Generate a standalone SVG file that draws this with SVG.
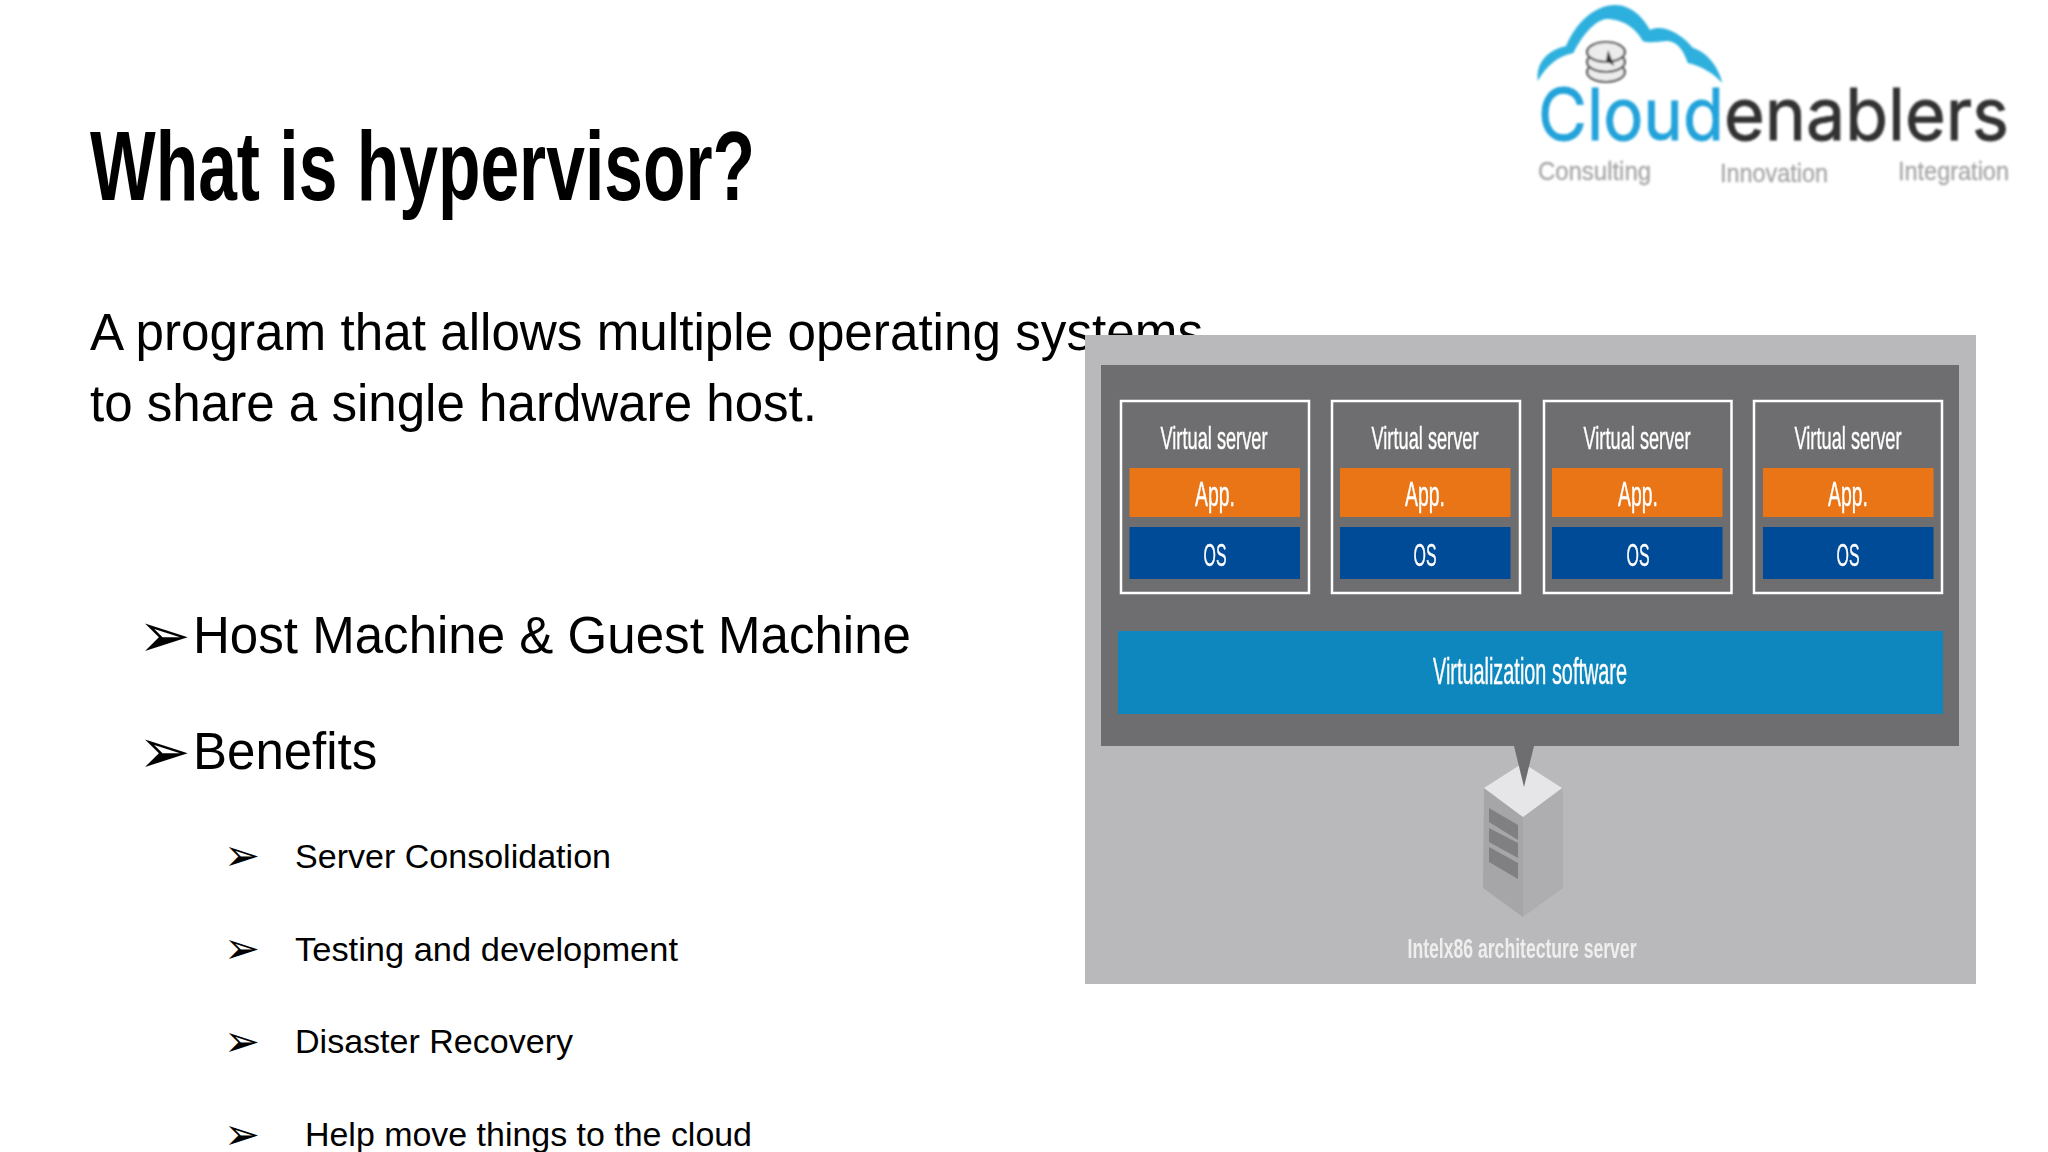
<svg xmlns="http://www.w3.org/2000/svg" width="2048" height="1152" viewBox="0 0 2048 1152">
<style>
text{font-family:"Liberation Sans",Arial,sans-serif;fill:#000}
.title{font-weight:700;font-size:98px}
.body{font-size:51px}
.l1{font-size:51px}
.l2{font-size:34.100px}
.b1{font-family:"DejaVu Sans",sans-serif;font-size:63px}
.b2{font-family:"DejaVu Sans",sans-serif;font-size:43px}
.w{fill:#fff;text-anchor:middle;stroke:#fff;stroke-width:.4}
.vs{font-size:32px}.app{font-size:35px}.os{font-size:32px}
.box{fill:none;stroke:#fff;stroke-width:2.500}
.or{fill:#e97518}.bl{fill:#004b97}
.g{fill:#a8a8a8;font-size:26px;stroke:#a8a8a8;stroke-width:.4}
.logo{font-family:Inter,sans-serif;font-size:72px;stroke-width:.9}
</style>
<defs>
<filter id="soft" x="-2%" y="-2%" width="104%" height="104%"><feGaussianBlur stdDeviation="0.6"/></filter>
<filter id="softer" x="-2%" y="-2%" width="104%" height="104%"><feGaussianBlur stdDeviation="1"/></filter>
</defs>
<rect width="2048" height="1152" fill="#fff"/>
<g id="slide-text">
<text class="title" x="90" y="200" textLength="665" lengthAdjust="spacingAndGlyphs">What is hypervisor?</text>
<text class="body" x="90" y="350" textLength="1113" lengthAdjust="spacingAndGlyphs">A program that allows multiple operating systems</text>
<text class="body" x="90" y="421" textLength="727" lengthAdjust="spacingAndGlyphs">to share a single hardware host.</text>
<text class="b1" x="138" y="657">➢</text><text class="l1" x="193" y="653" textLength="718" lengthAdjust="spacingAndGlyphs">Host Machine &amp; Guest Machine</text>
<text class="b1" x="138" y="773">➢</text><text class="l1" x="193" y="769">Benefits</text>
<text class="b2" x="224" y="870">➢</text><text class="l2" x="295" y="868" textLength="316" lengthAdjust="spacingAndGlyphs">Server Consolidation</text>
<text class="b2" x="224" y="963">➢</text><text class="l2" x="295" y="961" textLength="383" lengthAdjust="spacingAndGlyphs">Testing and development</text>
<text class="b2" x="224" y="1056">➢</text><text class="l2" x="295" y="1053" textLength="278" lengthAdjust="spacingAndGlyphs">Disaster Recovery</text>
<text class="b2" x="224" y="1149">➢</text><text class="l2" x="305" y="1146" textLength="447" lengthAdjust="spacingAndGlyphs">Help move things to the cloud</text>
</g>
<g id="logo" filter="url(#softer)">
<g transform="translate(1500 0) scale(1.049 1) translate(-1500 0)">
<path d="M1536 81C1534 62 1546 50 1563 46C1572 23 1590 5 1610 5C1625 5 1637 18 1643 30C1655 24 1672 33 1684 48C1697 52 1708 66 1712 83C1703 73 1692 66 1679 63C1675 51 1670 42 1660 41C1652 41 1644 44 1636 41C1630 29 1618 19 1601 19C1589 21 1577 38 1570 53C1555 56 1545 65 1536 81Z" fill="#2fb0de"/>
<g fill="#ececec" stroke="#555" stroke-width="2.200">
<ellipse cx="1601" cy="72" rx="18" ry="10"/><ellipse cx="1601" cy="62" rx="18" ry="10"/><ellipse cx="1601" cy="52" rx="18" ry="10"/>
</g>
<path d="M1603 50l6 16-8-5z" fill="#333"/>
</g>
<text class="logo" x="1538" y="140" textLength="186" lengthAdjust="spacingAndGlyphs" style="fill:#23a3da;stroke:#23a3da">Cloud</text>
<text class="logo" x="1724" y="140" textLength="285" lengthAdjust="spacingAndGlyphs" style="fill:#333;stroke:#333">enablers</text>
<text class="g" x="1538" y="180" textLength="113" lengthAdjust="spacingAndGlyphs">Consulting</text>
<text class="g" x="1720" y="182" textLength="108" lengthAdjust="spacingAndGlyphs">Innovation</text>
<text class="g" x="1898" y="180" textLength="111" lengthAdjust="spacingAndGlyphs">Integration</text>
</g>
<g id="figure">
<rect x="1085" y="335" width="891" height="649" fill="#b9b9bb"/>
<rect x="1101" y="365" width="858" height="381" fill="#6e6e70"/>
</g>
<g id="servers" filter="url(#soft)">
<g id="vs1"><rect class="box" x="1121" y="401" width="188" height="192"/><rect class="or" x="1129.500" y="468" width="170.500" height="49"/><rect class="bl" x="1129.500" y="527" width="170.500" height="52"/><text class="w vs" x="1214" y="449" textLength="107" lengthAdjust="spacingAndGlyphs">Virtual server</text><text class="w app" x="1215" y="506" textLength="40" lengthAdjust="spacingAndGlyphs">App.</text><text class="w os" x="1215" y="566" textLength="23" lengthAdjust="spacingAndGlyphs">OS</text></g>
<g id="vs2"><rect class="box" x="1332" y="401" width="188" height="192"/><rect class="or" x="1340" y="468" width="170.500" height="49"/><rect class="bl" x="1340" y="527" width="170.500" height="52"/><text class="w vs" x="1425" y="449" textLength="107" lengthAdjust="spacingAndGlyphs">Virtual server</text><text class="w app" x="1425" y="506" textLength="40" lengthAdjust="spacingAndGlyphs">App.</text><text class="w os" x="1425" y="566" textLength="23" lengthAdjust="spacingAndGlyphs">OS</text></g>
<g id="vs3"><rect class="box" x="1544" y="401" width="187.500" height="192"/><rect class="or" x="1552" y="468" width="170.500" height="49"/><rect class="bl" x="1552" y="527" width="170.500" height="52"/><text class="w vs" x="1637" y="449" textLength="107" lengthAdjust="spacingAndGlyphs">Virtual server</text><text class="w app" x="1638" y="506" textLength="40" lengthAdjust="spacingAndGlyphs">App.</text><text class="w os" x="1638" y="566" textLength="23" lengthAdjust="spacingAndGlyphs">OS</text></g>
<g id="vs4"><rect class="box" x="1754" y="401" width="188" height="192"/><rect class="or" x="1763" y="468" width="170.500" height="49"/><rect class="bl" x="1763" y="527" width="170.500" height="52"/><text class="w vs" x="1848" y="449" textLength="107" lengthAdjust="spacingAndGlyphs">Virtual server</text><text class="w app" x="1848" y="506" textLength="40" lengthAdjust="spacingAndGlyphs">App.</text><text class="w os" x="1848" y="566" textLength="23" lengthAdjust="spacingAndGlyphs">OS</text></g>
<g id="virtualization"><rect x="1118" y="631" width="825" height="83" fill="#0f87bd"/><text class="w" x="1530" y="684" font-size="36" textLength="194" lengthAdjust="spacingAndGlyphs">Virtualization software</text></g>
<g id="host">
<path d="M1484 788L1523 817V917L1483 888Z" fill="#a6a6a8"/>
<path d="M1523 817L1563 788V888L1523 917Z" fill="#aeaeb0"/>
<path d="M1523 763L1562 788L1523 817L1484 788Z" fill="#e6e6e8"/>
<path d="M1489 808L1518 825V840L1489 822ZM1489 828L1518 843V858L1489 842ZM1489 847L1518 863V879L1489 862Z" fill="#808082"/>
<path d="M1514 746H1534L1524 787Z" fill="#6e6e70"/>
<text class="w" x="1522" y="958" font-size="27" font-weight="700" textLength="229" lengthAdjust="spacingAndGlyphs" style="fill:#eee;stroke:none">Intelx86 architecture server</text>
</g>
</g>
</svg>
